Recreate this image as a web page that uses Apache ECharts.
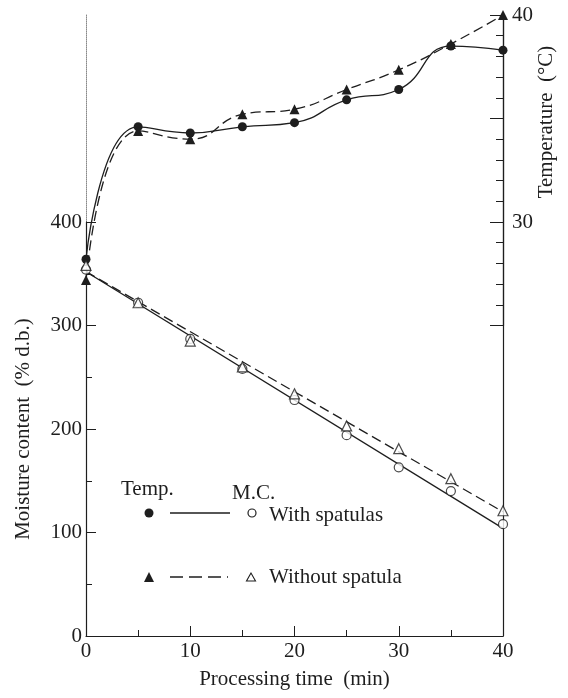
<!DOCTYPE html>
<html>
<head>
<meta charset="utf-8">
<script src="https://cdn.jsdelivr.net/npm/echarts@6/dist/echarts.min.js"></script>
<style>
  html, body { margin: 0; padding: 0; background: #fff; }
  #chart { width: 568px; height: 698px; }
</style>
</head>
<body>
<div id="chart"></div>
<script>
// processing time (min)
const time = [0, 5, 10, 15, 20, 25, 30, 35, 40];
// temperature (°C)
const tempWith = [28.2, 34.6, 34.3, 34.6, 34.8, 35.9, 36.4, 38.5, 38.3];
const tempWithout = [27.2, 34.4, 34.0, 35.2, 35.45, 36.4, 37.35, 38.6, 40.0];
// moisture content (% d.b.)
const mcWith = [354, 322, 287, 258, 228, 194, 163, 140, 108];
const mcWithout = [358, 322, 285, 260, 234, 203, 181, 152, 121];
// fitted straight lines for moisture content
const fitTime = [0, 40];
const mcFitWith = [352, 104];
const mcFitWithout = [352, 120];

const INK = '#1e1e1e';
const FONT = 'Liberation Serif';

const pairs = (xs, ys) => xs.map((x, i) => [x, ys[i]]);

const chart = echarts.init(document.getElementById('chart'));

chart.setOption({
  animation: false,
  backgroundColor: '#fff',
  textStyle: { fontFamily: FONT, color: INK },
  grid: [
    { left: 86, right: 65, top: 15, bottom: 62 },   // main plot
    { left: 86, right: 65, top: 222, bottom: 62 },  // 0..400 part of left axis
    { left: 86, right: 65, top: 15, bottom: 372.5 } // 25..40 part of right axis
  ],
  xAxis: [
    {
      gridIndex: 0, type: 'value', min: 0, max: 40, interval: 10,
      name: 'Processing time  (min)', nameLocation: 'middle', nameGap: 33,
      nameTextStyle: { fontFamily: FONT, fontSize: 21, color: INK },
      axisLine: { onZero: false, lineStyle: { color: INK, width: 1.2 } },
      axisTick: { inside: true, length: 10, lineStyle: { color: INK } },
      minorTick: { show: true, splitNumber: 2, length: 6, lineStyle: { color: INK } },
      axisLabel: { fontFamily: FONT, fontSize: 21, color: INK, margin: 5 },
      splitLine: { show: false }
    },
    { gridIndex: 1, type: 'value', min: 0, max: 40, show: false },
    { gridIndex: 2, type: 'value', min: 0, max: 40, show: false }
  ],
  yAxis: [
    {
      gridIndex: 0, type: 'value', min: 0, max: 600, interval: 100, position: 'left',
      axisLine: { show: true, onZero: false, lineStyle: { color: '#888', type: 'dotted', width: 1 } },
      axisTick: { show: false }, axisLabel: { show: false }, splitLine: { show: false }
    },
    {
      gridIndex: 0, type: 'value', min: 10, max: 40, interval: 10, position: 'right',
      axisLine: { show: true, onZero: false, lineStyle: { color: INK, width: 1.2 } },
      axisTick: { show: false },
      axisLabel: {
        fontFamily: FONT, fontSize: 21, color: INK, margin: 9,
        formatter: v => (v >= 30 ? String(v) : '')
      },
      splitLine: { show: false }
    },
    {
      gridIndex: 1, type: 'value', min: 0, max: 400, interval: 100, position: 'left',
      name: 'Moisture content  (% d.b.)', nameLocation: 'middle', nameGap: 52,
      nameTextStyle: { fontFamily: FONT, fontSize: 21, color: INK },
      axisLine: { show: true, onZero: false, lineStyle: { color: INK, width: 1.2 } },
      axisTick: { show: true, inside: true, length: 10, lineStyle: { color: INK } },
      minorTick: { show: true, splitNumber: 2, length: 6, lineStyle: { color: INK } },
      axisLabel: { fontFamily: FONT, fontSize: 21, color: INK, margin: 4 },
      splitLine: { show: false }
    },
    {
      gridIndex: 2, type: 'value', min: 25, max: 40, interval: 5, position: 'right',
      axisLine: { show: true, onZero: false, lineStyle: { color: INK, width: 1.2 } },
      axisTick: { show: true, inside: true, length: 13, lineStyle: { color: INK } },
      minorTick: { show: true, splitNumber: 5, length: 7, lineStyle: { color: INK } },
      axisLabel: { show: false },
      splitLine: { show: false }
    }
  ],
  series: [
    {
      name: 'M.C. with spatulas (fit)', type: 'line', xAxisIndex: 0, yAxisIndex: 0,
      data: pairs(fitTime, mcFitWith), symbol: 'none', z: 2,
      lineStyle: { color: INK, width: 1.3 }
    },
    {
      name: 'M.C. without spatula (fit)', type: 'line', xAxisIndex: 0, yAxisIndex: 0,
      data: pairs(fitTime, mcFitWithout), symbol: 'none', z: 2,
      lineStyle: { color: INK, width: 1.3, type: [10, 5] }
    },
    {
      name: 'Temp. with spatulas', type: 'line', xAxisIndex: 0, yAxisIndex: 1,
      data: pairs(time, tempWith), smooth: 0.5, clip: false, z: 3,
      symbol: 'circle', symbolSize: 9,
      itemStyle: { color: INK },
      lineStyle: { color: INK, width: 1.3 }
    },
    {
      name: 'Temp. without spatula', type: 'line', xAxisIndex: 0, yAxisIndex: 1,
      data: pairs(time, tempWithout), smooth: 0.5, clip: false, z: 3,
      symbol: 'triangle', symbolSize: 10,
      itemStyle: { color: INK },
      lineStyle: { color: INK, width: 1.3, type: [10, 5] }
    },
    {
      name: 'M.C. with spatulas', type: 'scatter', xAxisIndex: 0, yAxisIndex: 0,
      data: pairs(time, mcWith), symbol: 'circle', symbolSize: 9, z: 4,
      itemStyle: { color: '#fff', borderColor: INK, borderWidth: 1.2 }
    },
    {
      name: 'M.C. without spatula', type: 'scatter', xAxisIndex: 0, yAxisIndex: 0,
      data: pairs(time, mcWithout), symbol: 'triangle', symbolSize: 10, z: 4,
      itemStyle: { color: '#fff', borderColor: INK, borderWidth: 1.2 }
    }
  ],
  // hand-made legend laid out like the printed key
  graphic: [
    { type: 'text', x: 121, y: 489, style: { text: 'Temp.', font: '21px "Liberation Serif"', fill: INK, verticalAlign: 'middle' } },
    { type: 'text', x: 232, y: 493, style: { text: 'M.C.', font: '21px "Liberation Serif"', fill: INK, verticalAlign: 'middle' } },
    { type: 'circle', shape: { cx: 149, cy: 513, r: 4.5 }, style: { fill: INK } },
    { type: 'line', shape: { x1: 170, y1: 513, x2: 230, y2: 513 }, style: { stroke: INK, lineWidth: 1.3 } },
    { type: 'circle', shape: { cx: 252, cy: 513, r: 4 }, style: { fill: '#fff', stroke: INK, lineWidth: 1.2 } },
    { type: 'text', x: 269, y: 515, style: { text: 'With spatulas', font: '21px "Liberation Serif"', fill: INK, verticalAlign: 'middle' } },
    { type: 'polygon', shape: { points: [[149, 572], [144, 582], [154, 582]] }, style: { fill: INK } },
    { type: 'line', shape: { x1: 170, y1: 577, x2: 228, y2: 577 }, style: { stroke: INK, lineWidth: 1.3, lineDash: [13, 6] } },
    { type: 'polygon', shape: { points: [[251, 573], [246.5, 581], [255.5, 581]] }, style: { fill: '#fff', stroke: INK, lineWidth: 1.1 } },
    { type: 'text', x: 269, y: 577, style: { text: 'Without spatula', font: '21px "Liberation Serif"', fill: INK, verticalAlign: 'middle' } },
    {
      type: 'text', x: 546, y: 122, rotation: Math.PI / 2,
      style: { text: 'Temperature  (°C)', font: '21px "Liberation Serif"', fill: INK, align: 'center', verticalAlign: 'middle' }
    }
  ]
});
</script>
</body>
</html>
